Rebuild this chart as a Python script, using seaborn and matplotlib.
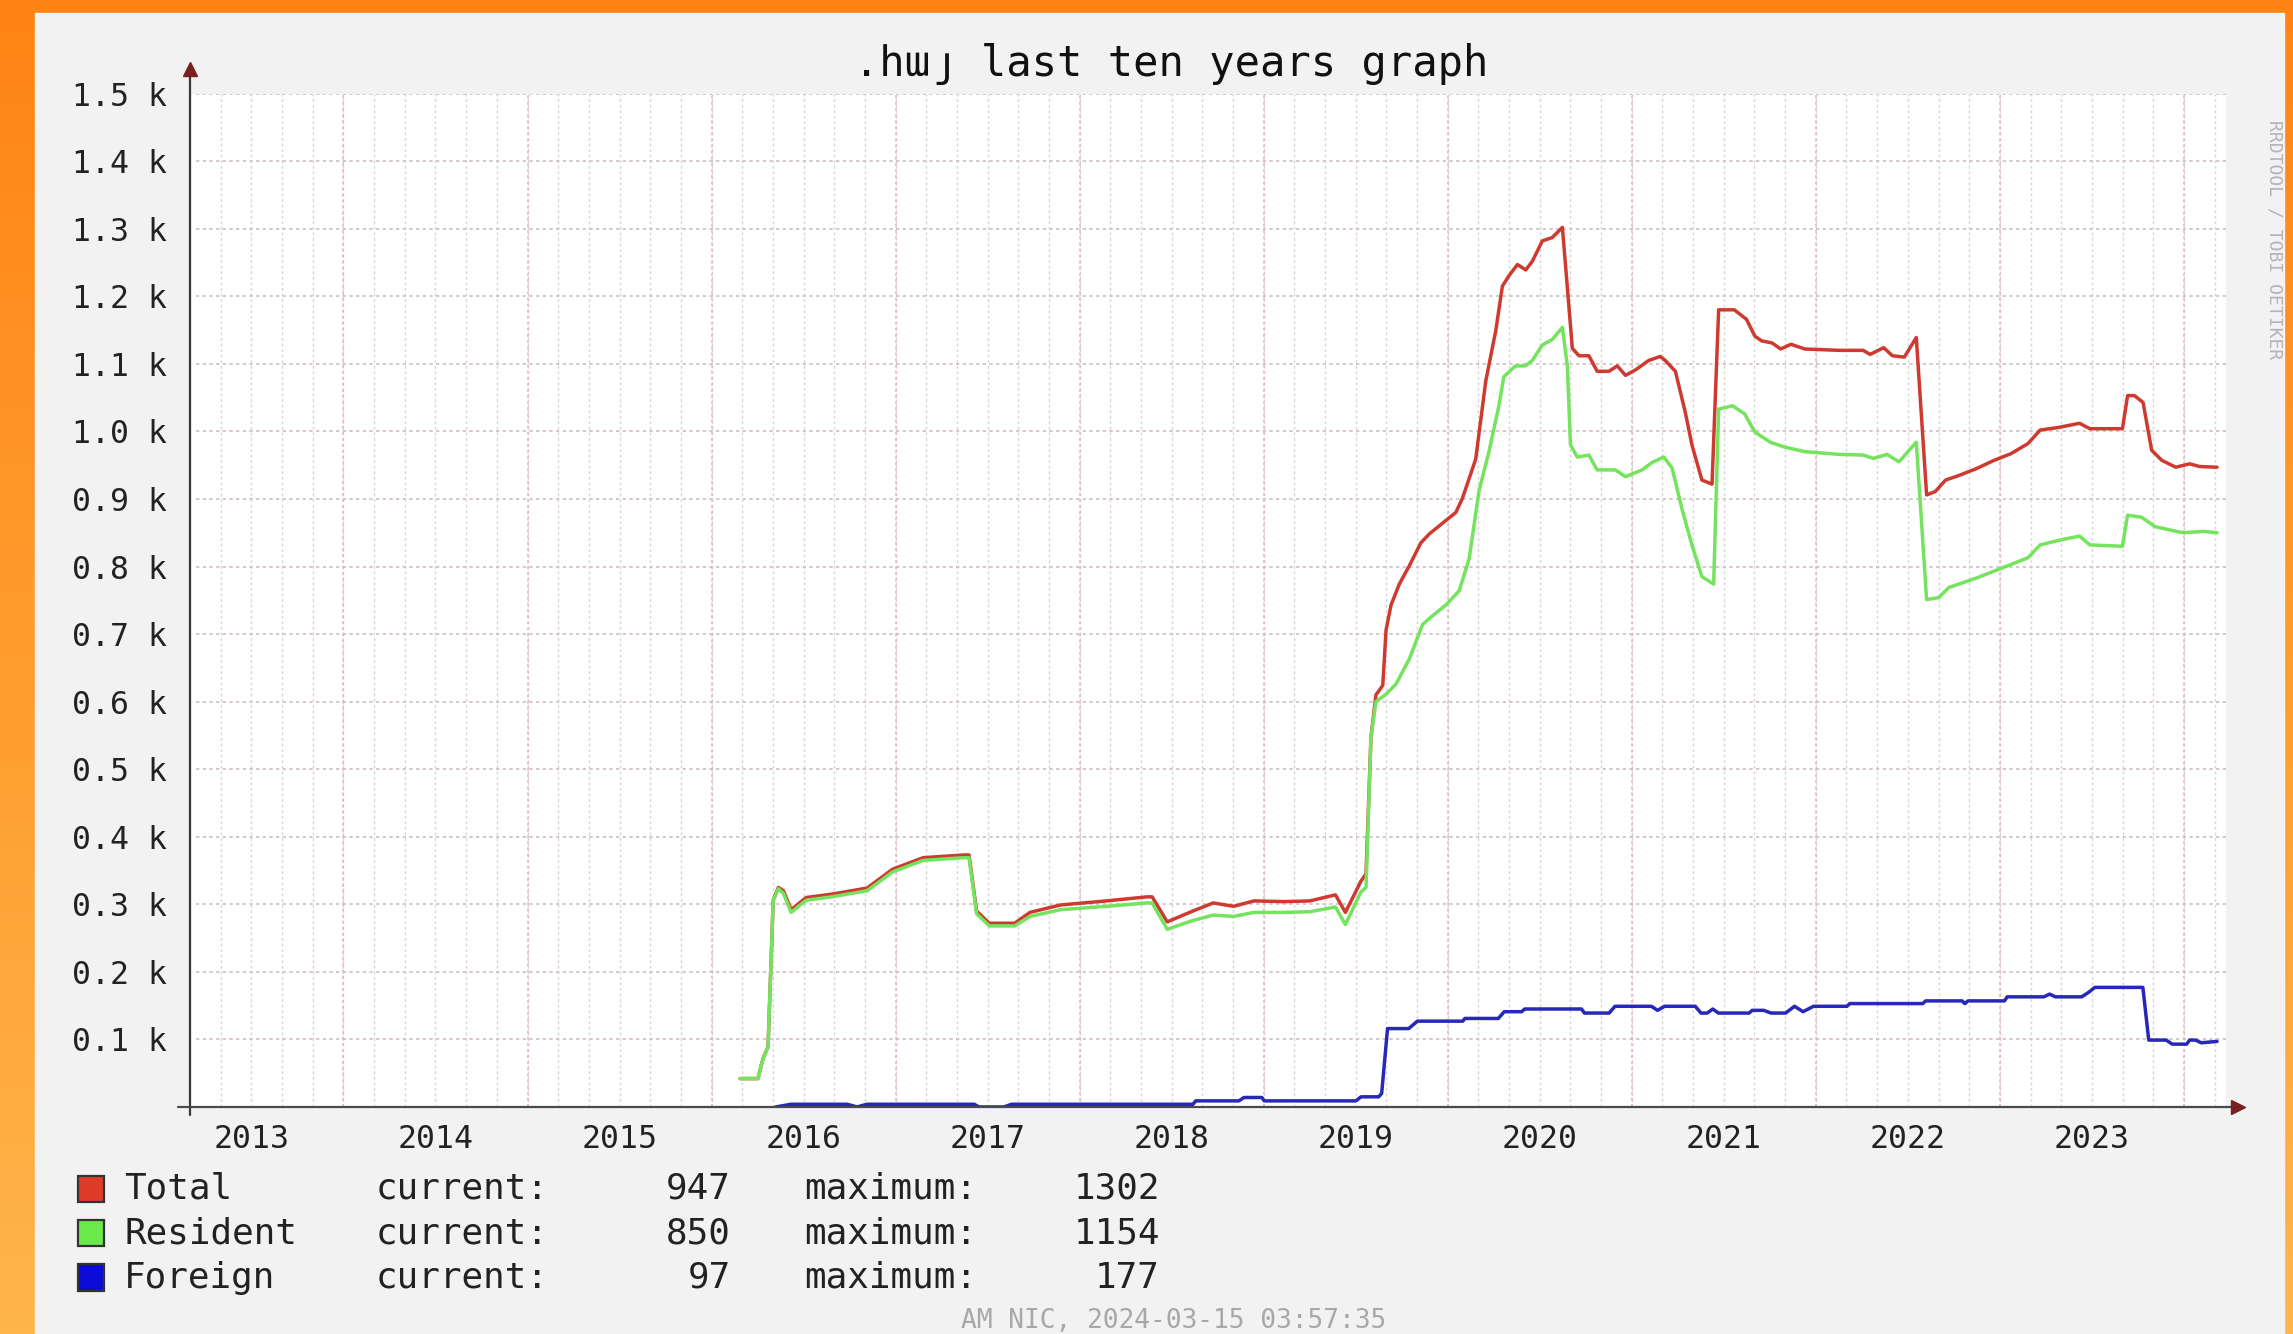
import numpy as np
import matplotlib
matplotlib.use("Agg")
import matplotlib.pyplot as plt
from matplotlib.patches import Rectangle
from matplotlib.colors import LinearSegmentedColormap
import seaborn as sns

# x = decimal year, y = number of registered domains
total_x = [2016.155, 2016.252, 2016.280, 2016.307, 2016.335, 2016.363, 2016.391, 2016.432, 2016.514, 2016.652,
           2016.845, 2016.984, 2017.150, 2017.371, 2017.399, 2017.440, 2017.509, 2017.647, 2017.730, 2017.896,
           2018.145, 2018.366, 2018.394, 2018.476, 2018.615, 2018.726, 2018.837, 2018.947, 2019.113, 2019.251,
           2019.390, 2019.444, 2019.528, 2019.556, 2019.583, 2019.610, 2019.647, 2019.665, 2019.692, 2019.737,
           2019.791, 2019.854, 2019.899, 2019.971, 2020.044, 2020.080, 2020.152, 2020.207, 2020.261, 2020.297,
           2020.334, 2020.379, 2020.424, 2020.460, 2020.514, 2020.568, 2020.623, 2020.650, 2020.677, 2020.713,
           2020.767, 2020.812, 2020.876, 2020.921, 2020.966, 2021.020, 2021.092, 2021.155, 2021.182, 2021.237,
           2021.291, 2021.327, 2021.381, 2021.436, 2021.472, 2021.557, 2021.623, 2021.669, 2021.706, 2021.762,
           2021.809, 2021.865, 2021.940, 2022.127, 2022.257, 2022.295, 2022.369, 2022.416, 2022.481, 2022.546,
           2022.602, 2022.649, 2022.705, 2022.780, 2022.873, 2022.967, 2023.060, 2023.153, 2023.219, 2023.321,
           2023.433, 2023.489, 2023.666, 2023.694, 2023.731, 2023.778, 2023.825, 2023.881, 2023.956, 2024.031,
           2024.086, 2024.180]
total_y = [42, 42, 72, 89, 306, 325, 320, 292, 310, 315,
           324, 352, 369, 373, 373, 290, 272, 272, 288, 299,
           305, 311, 311, 274, 290, 302, 297, 305, 304, 305,
           314, 288, 334, 345, 547, 610, 624, 706, 743, 774,
           801, 835, 848, 864, 880, 901, 959, 1075, 1149, 1215,
           1231, 1247, 1239, 1252, 1282, 1287, 1302, 1213, 1123, 1112,
           1112, 1089, 1089, 1097, 1083, 1091, 1105, 1111, 1105, 1089,
           1028, 980, 928, 922, 1180, 1180, 1166, 1141, 1134, 1131,
           1122, 1129, 1122, 1120, 1120, 1114, 1124, 1112, 1110, 1139,
           906, 911, 928, 935, 945, 957, 967, 982, 1002, 1006,
           1012, 1004, 1004, 1053, 1053, 1043, 972, 957, 947, 952,
           948, 947]

resident_x = [2016.155, 2016.252, 2016.280, 2016.307, 2016.335, 2016.363, 2016.391, 2016.432, 2016.514, 2016.652,
              2016.845, 2016.984, 2017.150, 2017.371, 2017.399, 2017.440, 2017.509, 2017.647, 2017.730, 2017.896,
              2018.145, 2018.366, 2018.394, 2018.476, 2018.615, 2018.726, 2018.837, 2018.947, 2019.113, 2019.251,
              2019.390, 2019.444, 2019.528, 2019.556, 2019.583, 2019.610, 2019.665, 2019.719, 2019.791, 2019.863,
              2019.917, 2019.990, 2020.062, 2020.116, 2020.170, 2020.224, 2020.278, 2020.305, 2020.368, 2020.422,
              2020.460, 2020.514, 2020.568, 2020.623, 2020.650, 2020.667, 2020.704, 2020.767, 2020.812, 2020.911,
              2020.966, 2021.056, 2021.110, 2021.174, 2021.219, 2021.273, 2021.327, 2021.381, 2021.445, 2021.472,
              2021.547, 2021.613, 2021.669, 2021.753, 2021.828, 2021.940, 2022.127, 2022.257, 2022.313, 2022.387,
              2022.452, 2022.546, 2022.602, 2022.668, 2022.723, 2022.873, 2022.967, 2023.060, 2023.153, 2023.219,
              2023.340, 2023.433, 2023.489, 2023.666, 2023.694, 2023.769, 2023.844, 2023.993, 2024.106, 2024.180]
resident_y = [42, 42, 72, 89, 306, 323, 316, 288, 306, 311,
              320, 348, 365, 369, 369, 286, 268, 268, 282, 292,
              297, 302, 302, 263, 276, 284, 282, 288, 288, 289,
              296, 270, 318, 325, 547, 600, 611, 626, 663, 714,
              727, 743, 764, 811, 912, 970, 1038, 1081, 1097, 1097,
              1105, 1128, 1136, 1154, 1097, 980, 962, 965, 943, 943,
              933, 943, 954, 962, 946, 885, 832, 785, 774, 1033,
              1038, 1026, 999, 984, 977, 970, 966, 965, 960, 966,
              955, 984, 751, 754, 769, 783, 793, 803, 813, 832,
              840, 845, 832, 830, 876, 873, 859, 850, 852, 850]

foreign_x = [2016.349, 2016.432, 2016.736, 2016.791, 2016.844, 2017.427, 2017.454, 2017.589, 2017.630, 2018.616,
             2018.631, 2018.865, 2018.893, 2018.990, 2019.003, 2019.501, 2019.529, 2019.625, 2019.641, 2019.673,
             2019.788, 2019.835, 2020.082, 2020.093, 2020.275, 2020.307, 2020.402, 2020.418, 2020.727, 2020.743,
             2020.877, 2020.909, 2021.107, 2021.140, 2021.178, 2021.345, 2021.376, 2021.410, 2021.440, 2021.471,
             2021.638, 2021.654, 2021.717, 2021.757, 2021.836, 2021.884, 2021.931, 2021.987, 2022.169, 2022.185,
             2022.581, 2022.597, 2022.795, 2022.810, 2022.827, 2023.025, 2023.040, 2023.239, 2023.270, 2023.302,
             2023.445, 2023.484, 2023.516, 2023.777, 2023.809, 2023.904, 2023.936, 2024.015, 2024.031, 2024.063,
             2024.094, 2024.180]
foreign_y = [0, 4, 4, 0, 4, 4, 0, 0, 4, 4,
             9, 9, 14, 14, 9, 9, 15, 15, 20, 116,
             116, 127, 127, 131, 131, 141, 141, 145, 145, 139,
             139, 149, 149, 143, 149, 149, 139, 139, 145, 139,
             139, 143, 143, 139, 139, 149, 141, 149, 149, 153,
             153, 157, 157, 153, 157, 157, 163, 163, 167, 163,
             163, 170, 177, 177, 99, 99, 93, 93, 99, 99,
             95, 97]

YEARS = list(range(2013, 2024))
Y_TICKS = list(range(100, 1501, 100))
Y_LABELS = [f"{v / 1000:.1f} k" for v in Y_TICKS]

SERIES = [("Total", total_x, total_y, "#cf3a30", "#e03b28"),
          ("Resident", resident_x, resident_y, "#74e35e", "#6cea4c"),
          ("Foreign", foreign_x, foreign_y, "#2727b8", "#0c0cd6")]

sns.set_style("white")
plt.rcParams["font.family"] = ["DejaVu Sans Mono", "DejaVu Sans"]

fig = plt.figure(figsize=(22.93, 13.34), dpi=100)

# orange page background + light grey panel
bg = fig.add_axes([0, 0, 1, 1], zorder=-5)
grad = np.linspace(0, 1, 256)[:, None]
bg.imshow(grad, aspect="auto", extent=[0, 1, 0, 1], origin="upper",
          cmap=LinearSegmentedColormap.from_list("bg", ["#ff8414", "#ffb54a"]))
bg.add_patch(Rectangle((0.0153, 0), 0.9808, 0.9903, color="#f2f2f2", zorder=2))
bg.set_xlim(0, 1)
bg.set_ylim(0, 1)
bg.axis("off")

ax = fig.add_axes([0.0829, 0.1702, 0.8879, 0.7596])
ax.set_facecolor("white")
x0, x1 = 2013.199, 2024.229
ax.set_xlim(x0, x1)
ax.set_ylim(0, 1500)

# grid: minor every 2 months, major every year, horizontal every 100
minor = np.arange(2013 + 2 / 12, x1, 1 / 6)
ax.vlines(minor, 0, 1500, colors="#d6d6d6", linestyles=(0, (2, 2)), lw=1, zorder=1)
ax.vlines(range(2014, 2025), 0, 1500, colors="#e9b5b5", linestyles=(0, (2, 2)), lw=1.1, zorder=1)
ax.hlines(Y_TICKS, x0, x1, colors="#cdbfbf", linestyles=(0, (2, 2)), lw=1.2, zorder=1)

for name, xs, ys, col, _ in SERIES:
    sns.lineplot(x=xs, y=ys, ax=ax, color=col, lw=2.5, estimator=None, sort=False, zorder=3)

for s in ax.spines.values():
    s.set_visible(False)

ax.set_xticks([y + 0.5 for y in YEARS], labels=[str(y) for y in YEARS])
ax.set_xticks(minor, minor=True)
ax.tick_params(axis="x", which="major", length=0, pad=12, labelsize=22.7, labelcolor="#222222")
ax.tick_params(axis="x", which="minor", length=6, direction="inout", color="#666666", width=1)
ax.set_yticks(Y_TICKS, labels=Y_LABELS)
ax.tick_params(axis="y", length=5, direction="inout", color="#666666", pad=14,
               labelsize=22.7, labelcolor="#222222")
ax.set_xlabel("")
ax.set_ylabel("")

# axes with arrows
ax.plot([0, 0], [-0.008, 1.02], transform=ax.transAxes, color="#3a3a3a", lw=1.6, clip_on=False, zorder=5)
ax.plot([-0.006, 1.004], [0, 0], transform=ax.transAxes, color="#4a4a4a", lw=1.6, clip_on=False, zorder=5)
ax.plot([0], [1.024], marker="^", ms=10, color="#7a1f1f", transform=ax.transAxes, clip_on=False, zorder=6)
ax.plot([1.006], [0], marker=">", ms=10, color="#7a1f1f", transform=ax.transAxes, clip_on=False, zorder=6)

fig.text(0.5107, 0.952, ".հայ last ten years graph", ha="center", va="center", fontsize=30.3, color="#111111")

# legend block
rows_y = [0.1087, 0.0757, 0.0420]
for (name, xs, ys, _, sw), yy in zip(SERIES, rows_y):
    fig.patches.append(Rectangle((0.0338, yy - 0.0101), 0.0116, 0.0202, transform=fig.transFigure,
                                 facecolor=sw, edgecolor="#333333", lw=1.6))
    fig.text(0.0541, yy, name, ha="left", va="center", fontsize=25.8, color="#222222")
    fig.text(0.1640, yy, "current:", ha="left", va="center", fontsize=25.8, color="#222222")
    fig.text(0.3188, yy, f"{ys[-1]}", ha="right", va="center", fontsize=25.8, color="#222222")
    fig.text(0.3506, yy, "maximum:", ha="left", va="center", fontsize=25.8, color="#222222")
    fig.text(0.5059, yy, f"{max(ys)}", ha="right", va="center", fontsize=25.8, color="#222222")

fig.text(0.5118, 0.0100, "AM NIC, 2024-03-15 03:57:35", ha="center", va="center",
         fontsize=18.9, color="#a8a8a8")
fig.text(0.9920, 0.82, "RRDTOOL / TOBI OETIKER", rotation=270, ha="center", va="center",
         fontsize=13, color="#b4b4b4")

fig.savefig("out.png", dpi=100)
